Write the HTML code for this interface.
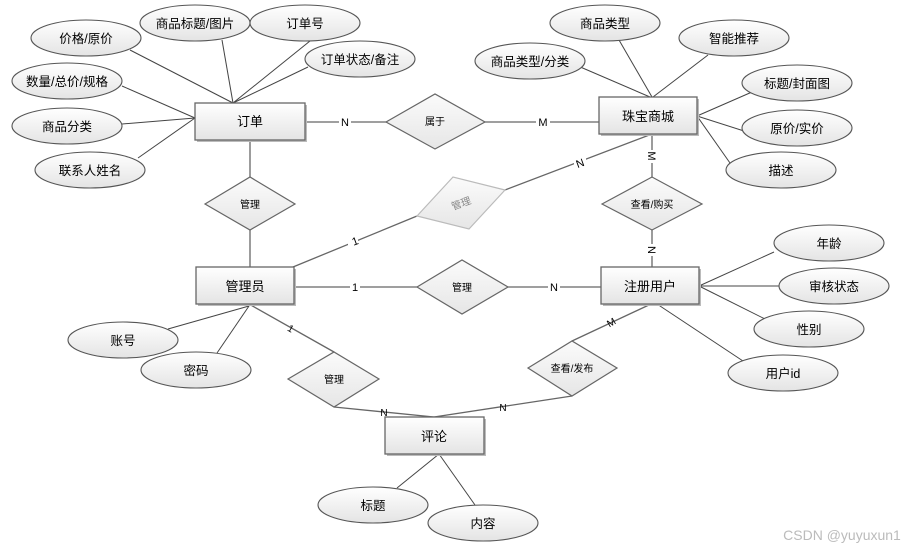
<!DOCTYPE html>
<html><head><meta charset="utf-8"><style>
html,body{margin:0;padding:0;background:#fff;}
svg{display:block;font-family:"Liberation Sans","Noto Sans CJK SC",sans-serif;}
</style></head><body>
<svg width="915" height="551" viewBox="0 0 915 551" xmlns="http://www.w3.org/2000/svg">
<defs>
<linearGradient id="g" x1="0" y1="0" x2="0" y2="1"><stop offset="0" stop-color="#ffffff"/><stop offset="1" stop-color="#e4e4e4"/></linearGradient>
<linearGradient id="g2" x1="0" y1="0" x2="0" y2="1"><stop offset="0" stop-color="#fbfbfb"/><stop offset="1" stop-color="#e6e6e6"/></linearGradient>
</defs>
<g stroke="#444" stroke-width="1" fill="none">
<!-- 订单 attrs -->
<line x1="233" y1="103" x2="130" y2="50"/>
<line x1="233" y1="103" x2="222" y2="40"/>
<line x1="233" y1="103" x2="310" y2="41"/>
<line x1="233" y1="103" x2="308" y2="67"/>
<line x1="195" y1="118" x2="122" y2="86"/>
<line x1="195" y1="118" x2="122" y2="124"/>
<line x1="195" y1="118" x2="138" y2="158"/>
<!-- 珠宝 attrs -->
<line x1="650" y1="97" x2="578" y2="66"/>
<line x1="652" y1="97" x2="619" y2="40"/>
<line x1="653" y1="97" x2="708" y2="55"/>
<line x1="697" y1="116" x2="752" y2="92"/>
<line x1="697" y1="116" x2="744" y2="131"/>
<line x1="697" y1="116" x2="730" y2="163"/>
<!-- 注册用户 attrs -->
<line x1="699" y1="286" x2="774" y2="252"/>
<line x1="699" y1="286" x2="780" y2="286"/>
<line x1="699" y1="286" x2="765" y2="319"/>
<line x1="657" y1="304" x2="743" y2="361"/>
<!-- 管理员 attrs -->
<line x1="249" y1="306" x2="168" y2="329"/>
<line x1="249" y1="306" x2="217" y2="353"/>
<!-- 评论 attrs -->
<line x1="439" y1="454" x2="397" y2="488"/>
<line x1="439" y1="454" x2="475" y2="505"/>
</g>
<g stroke="#666" stroke-width="1.3" fill="none">
<line x1="305" y1="122" x2="386" y2="122"/>
<line x1="485" y1="122" x2="599" y2="122"/>
<line x1="250" y1="140" x2="250" y2="177"/>
<line x1="250" y1="230" x2="250" y2="267"/>
<line x1="652" y1="134" x2="652" y2="177"/>
<line x1="652" y1="230" x2="652" y2="267"/>
<line x1="505" y1="190" x2="652" y2="134"/>
<line x1="417" y1="216" x2="293" y2="267"/>
<line x1="294" y1="287" x2="417" y2="287"/>
<line x1="508" y1="287" x2="601" y2="287"/>
<line x1="249" y1="304" x2="334" y2="352"/>
<line x1="334" y1="407" x2="434" y2="417"/>
<line x1="651" y1="304" x2="572" y2="341"/>
<line x1="572" y1="396" x2="434" y2="417"/>
</g>
<!-- cardinality labels -->
<g font-size="11" fill="#000" text-anchor="middle">
<rect x="339" y="115" width="12" height="13" fill="#fff"/><text x="345" y="126">N</text>
<rect x="536" y="115" width="14" height="13" fill="#fff"/><text x="543" y="126">M</text>
<rect x="574" y="157" width="12" height="12" fill="#fff"/><text x="580" y="167" transform="rotate(-20 580 163)">N</text>
<rect x="348" y="235" width="10" height="12" fill="#fff"/><text x="355" y="245" transform="rotate(-20 355 241)">1</text>
<rect x="646" y="150" width="12" height="13" fill="#fff"/><text x="652" y="160" transform="rotate(90 652 156)">M</text>
<rect x="646" y="244" width="12" height="12" fill="#fff"/><text x="652" y="254" transform="rotate(90 652 250)">N</text>
<rect x="350" y="281" width="10" height="12" fill="#fff"/><text x="355" y="291">1</text>
<rect x="548" y="281" width="12" height="12" fill="#fff"/><text x="554" y="291">N</text>
<text x="291" y="332" font-size="10" transform="rotate(30 291 328)">1</text>
<text x="384" y="416" font-size="10">N</text>
<text x="503" y="411" font-size="10">N</text>
<text x="611" y="326" font-size="10" transform="rotate(-30 611 322)">M</text>
</g>
<!-- diamonds -->
<g stroke="#666" stroke-width="1.2" fill="url(#g2)">
<polygon points="386,122 435,94 485,122 435,149"/>
<polygon points="205,204 250,177 295,204 250,230"/>
<polygon points="602,204 652,177 702,204 652,230"/>
<polygon points="417,287 462,260 508,287 462,314"/>
<polygon points="288,379 334,352 379,379 334,407"/>
<polygon points="528,368 572,341 617,368 572,396"/>
<polygon points="417,216 453,177 505,190 469,229" stroke="#bbb"/>
</g>
<g font-size="10" fill="#000" text-anchor="middle">
<text x="435" y="125">属于</text>
<text x="250" y="208">管理</text>
<text x="652" y="208">查看/购买</text>
<text x="462" y="291">管理</text>
<text x="334" y="383">管理</text>
<text x="572" y="372">查看/发布</text>
<text x="461" y="207" fill="#888" transform="rotate(-20 461 203)">管理</text>
</g>
<!-- entities -->
<g stroke="#666" stroke-width="1.3" fill="url(#g)">
<rect x="197" y="105" width="110" height="37" fill="#bbb" stroke="none"/>
<rect x="195" y="103" width="110" height="37"/>
<rect x="601" y="99" width="98" height="37" fill="#bbb" stroke="none"/>
<rect x="599" y="97" width="98" height="37"/>
<rect x="198" y="269" width="98" height="37" fill="#bbb" stroke="none"/>
<rect x="196" y="267" width="98" height="37"/>
<rect x="603" y="269" width="98" height="37" fill="#bbb" stroke="none"/>
<rect x="601" y="267" width="98" height="37"/>
<rect x="387" y="419" width="99" height="37" fill="#bbb" stroke="none"/>
<rect x="385" y="417" width="99" height="37"/>
</g>
<g font-size="13" fill="#000" text-anchor="middle">
<text x="250" y="126">订单</text>
<text x="648" y="121">珠宝商城</text>
<text x="245" y="291">管理员</text>
<text x="650" y="291">注册用户</text>
<text x="434" y="441">评论</text>
</g>
<!-- attributes -->
<g stroke="#555" stroke-width="1.1" fill="url(#g)">
<g id="ells">
<ellipse cx="86" cy="38" rx="55" ry="18"/>
<ellipse cx="195" cy="23" rx="55" ry="18"/>
<ellipse cx="305" cy="23" rx="55" ry="18"/>
<ellipse cx="360" cy="59" rx="55" ry="18"/>
<ellipse cx="67" cy="81" rx="55" ry="18"/>
<ellipse cx="67" cy="126" rx="55" ry="18"/>
<ellipse cx="90" cy="170" rx="55" ry="18"/>
<ellipse cx="605" cy="23" rx="55" ry="18"/>
<ellipse cx="734" cy="38" rx="55" ry="18"/>
<ellipse cx="530" cy="61" rx="55" ry="18"/>
<ellipse cx="797" cy="83" rx="55" ry="18"/>
<ellipse cx="797" cy="128" rx="55" ry="18"/>
<ellipse cx="781" cy="170" rx="55" ry="18"/>
<ellipse cx="829" cy="243" rx="55" ry="18"/>
<ellipse cx="834" cy="286" rx="55" ry="18"/>
<ellipse cx="809" cy="329" rx="55" ry="18"/>
<ellipse cx="783" cy="373" rx="55" ry="18"/>
<ellipse cx="123" cy="340" rx="55" ry="18"/>
<ellipse cx="196" cy="370" rx="55" ry="18"/>
<ellipse cx="373" cy="505" rx="55" ry="18"/>
<ellipse cx="483" cy="523" rx="55" ry="18"/>
</g>
</g>
<g font-size="12.5" fill="#000" text-anchor="middle">
<text x="86" y="43">价格/原价</text>
<text x="195" y="28">商品标题/图片</text>
<text x="305" y="28">订单号</text>
<text x="360" y="64">订单状态/备注</text>
<text x="67" y="86">数量/总价/规格</text>
<text x="67" y="131">商品分类</text>
<text x="90" y="175">联系人姓名</text>
<text x="605" y="28">商品类型</text>
<text x="734" y="43">智能推荐</text>
<text x="530" y="66">商品类型/分类</text>
<text x="797" y="88">标题/封面图</text>
<text x="797" y="133">原价/实价</text>
<text x="781" y="175">描述</text>
<text x="829" y="248">年龄</text>
<text x="834" y="291">审核状态</text>
<text x="809" y="334">性别</text>
<text x="783" y="378">用户id</text>
<text x="123" y="345">账号</text>
<text x="196" y="375">密码</text>
<text x="373" y="510">标题</text>
<text x="483" y="528">内容</text>
</g>
<text x="842" y="540" font-size="14" fill="#bbb" text-anchor="middle">CSDN @yuyuxun1</text>
</svg>
</body></html>
